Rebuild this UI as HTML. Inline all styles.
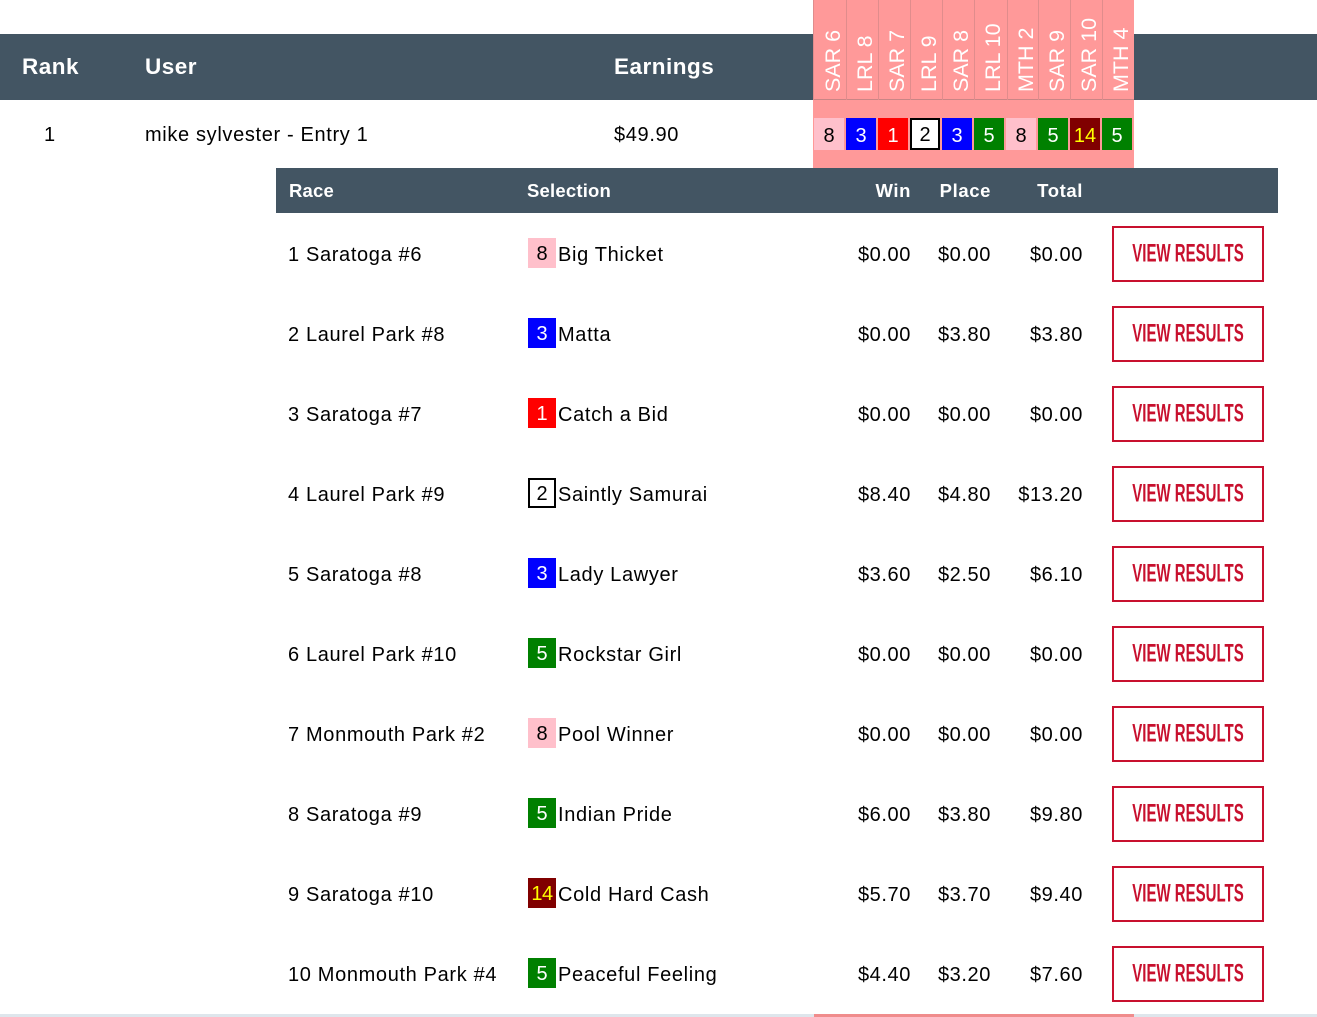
<!DOCTYPE html>
<html><head><meta charset="utf-8">
<style>
*{margin:0;padding:0;box-sizing:border-box}
html,body{width:1317px;height:1017px;background:#fff;overflow:hidden;font-family:"Liberation Sans",Arial,Helvetica,sans-serif;color:#000}
.a{position:absolute;white-space:nowrap}
.hdr{position:absolute;left:0;top:34px;width:1317px;height:66px;background:#435563}
.ht{position:absolute;top:34px;height:66px;line-height:66px;color:#fff;font-weight:bold;font-size:22.5px;letter-spacing:0.5px}
.pink{position:absolute;left:813px;top:0;width:321px;height:168px;background:#ff9999}
.vl{position:absolute;top:0;width:1px;height:100px;background:#e08c8c}
.mb{position:absolute;top:118px;width:30px;height:32px;line-height:32px;padding-top:2px;text-align:center;font-size:20px}
.sub{position:absolute;left:276px;top:168px;width:1002px;height:846px;background:#fff}
.sh{position:absolute;left:276px;top:168px;width:1002px;height:45px;background:#435563}
.st{position:absolute;top:168px;height:45px;line-height:45px;color:#fff;font-weight:bold;font-size:18.5px;letter-spacing:0.2px}
.t{position:absolute;height:40px;line-height:40px;font-size:20px;white-space:nowrap;letter-spacing:0.65px}
.r{text-align:right;letter-spacing:0.6px}
.sb{position:absolute;left:528px;width:28px;height:30px;line-height:30px;text-align:center;font-size:20px;padding-top:1px}
.btn{position:absolute;left:1112px;width:152px;height:56px;border:2px solid #c8102e;color:#c8102e}
.btn span{position:absolute;left:50%;top:50%;transform:translate(-50%,-50%) scaleX(0.6);font-weight:bold;font-size:25px;letter-spacing:0;white-space:nowrap}
.pk{background:#ffc0cb;color:#000}
.bl{background:#0000ff;color:#fff}
.rd{background:#ff0000;color:#fff}
.wh{background:#fff;color:#000;border:2px solid #000}
.gr{background:#008000;color:#fff}
.mr{background:#800000;color:#ffff00}
</style></head><body>

<div class="pink"></div>
<div class="hdr"></div>
<div class="pink" style="top:0;height:100px;"></div>
<div class="a" style="left:813px;top:99px;width:321px;height:1px;background:#c98585"></div>
<div class="vl" style="left:813px"></div>
<div class="vl" style="left:846px"></div>
<div class="vl" style="left:878px"></div>
<div class="vl" style="left:910px"></div>
<div class="vl" style="left:942px"></div>
<div class="vl" style="left:974px"></div>
<div class="vl" style="left:1007px"></div>
<div class="vl" style="left:1038px"></div>
<div class="vl" style="left:1070px"></div>
<div class="vl" style="left:1102px"></div>

<svg class="a" style="left:0;top:0" width="1317" height="110">
<g fill="#fff" font-family="Liberation Sans, Arial, sans-serif" font-size="21.5">
<text transform="translate(840,92) rotate(-90)">SAR 6</text>
<text transform="translate(872,92) rotate(-90)">LRL 8</text>
<text transform="translate(904,92) rotate(-90)">SAR 7</text>
<text transform="translate(936,92) rotate(-90)">LRL 9</text>
<text transform="translate(968,92) rotate(-90)">SAR 8</text>
<text transform="translate(1000,92) rotate(-90)">LRL 10</text>
<text transform="translate(1033,92) rotate(-90)">MTH 2</text>
<text transform="translate(1064,92) rotate(-90)">SAR 9</text>
<text transform="translate(1096,92) rotate(-90)">SAR 10</text>
<text transform="translate(1128,92) rotate(-90)">MTH 4</text>
</g></svg>

<div class="ht" style="left:22px">Rank</div>
<div class="ht" style="left:145px">User</div>
<div class="ht" style="left:614px">Earnings</div>

<div class="t" style="left:44px;top:115px">1</div>
<div class="t" style="left:145px;top:115px">mike sylvester - Entry 1</div>
<div class="t" style="left:614px;top:115px">$49.90</div>

<div class="mb pk" style="left:814px">8</div>
<div class="mb bl" style="left:846px">3</div>
<div class="mb rd" style="left:878px">1</div>
<div class="mb wh" style="left:910px;line-height:28px;padding-top:1px">2</div>
<div class="mb bl" style="left:942px">3</div>
<div class="mb gr" style="left:974px">5</div>
<div class="mb pk" style="left:1006px">8</div>
<div class="mb gr" style="left:1038px">5</div>
<div class="mb mr" style="left:1070px">14</div>
<div class="mb gr" style="left:1102px">5</div>

<div class="sub"></div>
<div class="sh"></div>
<div class="st" style="left:289px">Race</div>
<div class="st" style="left:527px">Selection</div>
<div class="st r" style="left:811px;width:100px">Win</div>
<div class="st r" style="left:891px;width:100px">Place</div>
<div class="st r" style="left:983px;width:100px">Total</div>

<!-- rows -->
<div class="t" style="left:288px;top:235px">1 Saratoga #6</div>
<div class="sb pk" style="top:238px">8</div>
<div class="t" style="left:558px;top:235px">Big Thicket</div>
<div class="t r" style="left:811px;width:100px;top:235px">$0.00</div>
<div class="t r" style="left:891px;width:100px;top:235px">$0.00</div>
<div class="t r" style="left:983px;width:100px;top:235px">$0.00</div>
<div class="btn" style="top:226px"><span>VIEW RESULTS</span></div>

<div class="t" style="left:288px;top:315px">2 Laurel Park #8</div>
<div class="sb bl" style="top:318px">3</div>
<div class="t" style="left:558px;top:315px">Matta</div>
<div class="t r" style="left:811px;width:100px;top:315px">$0.00</div>
<div class="t r" style="left:891px;width:100px;top:315px">$3.80</div>
<div class="t r" style="left:983px;width:100px;top:315px">$3.80</div>
<div class="btn" style="top:306px"><span>VIEW RESULTS</span></div>

<div class="t" style="left:288px;top:395px">3 Saratoga #7</div>
<div class="sb rd" style="top:398px">1</div>
<div class="t" style="left:558px;top:395px">Catch a Bid</div>
<div class="t r" style="left:811px;width:100px;top:395px">$0.00</div>
<div class="t r" style="left:891px;width:100px;top:395px">$0.00</div>
<div class="t r" style="left:983px;width:100px;top:395px">$0.00</div>
<div class="btn" style="top:386px"><span>VIEW RESULTS</span></div>

<div class="t" style="left:288px;top:475px">4 Laurel Park #9</div>
<div class="sb wh" style="top:478px;line-height:26px">2</div>
<div class="t" style="left:558px;top:475px">Saintly Samurai</div>
<div class="t r" style="left:811px;width:100px;top:475px">$8.40</div>
<div class="t r" style="left:891px;width:100px;top:475px">$4.80</div>
<div class="t r" style="left:983px;width:100px;top:475px">$13.20</div>
<div class="btn" style="top:466px"><span>VIEW RESULTS</span></div>

<div class="t" style="left:288px;top:555px">5 Saratoga #8</div>
<div class="sb bl" style="top:558px">3</div>
<div class="t" style="left:558px;top:555px">Lady Lawyer</div>
<div class="t r" style="left:811px;width:100px;top:555px">$3.60</div>
<div class="t r" style="left:891px;width:100px;top:555px">$2.50</div>
<div class="t r" style="left:983px;width:100px;top:555px">$6.10</div>
<div class="btn" style="top:546px"><span>VIEW RESULTS</span></div>

<div class="t" style="left:288px;top:635px">6 Laurel Park #10</div>
<div class="sb gr" style="top:638px">5</div>
<div class="t" style="left:558px;top:635px">Rockstar Girl</div>
<div class="t r" style="left:811px;width:100px;top:635px">$0.00</div>
<div class="t r" style="left:891px;width:100px;top:635px">$0.00</div>
<div class="t r" style="left:983px;width:100px;top:635px">$0.00</div>
<div class="btn" style="top:626px"><span>VIEW RESULTS</span></div>

<div class="t" style="left:288px;top:715px">7 Monmouth Park #2</div>
<div class="sb pk" style="top:718px">8</div>
<div class="t" style="left:558px;top:715px">Pool Winner</div>
<div class="t r" style="left:811px;width:100px;top:715px">$0.00</div>
<div class="t r" style="left:891px;width:100px;top:715px">$0.00</div>
<div class="t r" style="left:983px;width:100px;top:715px">$0.00</div>
<div class="btn" style="top:706px"><span>VIEW RESULTS</span></div>

<div class="t" style="left:288px;top:795px">8 Saratoga #9</div>
<div class="sb gr" style="top:798px">5</div>
<div class="t" style="left:558px;top:795px">Indian Pride</div>
<div class="t r" style="left:811px;width:100px;top:795px">$6.00</div>
<div class="t r" style="left:891px;width:100px;top:795px">$3.80</div>
<div class="t r" style="left:983px;width:100px;top:795px">$9.80</div>
<div class="btn" style="top:786px"><span>VIEW RESULTS</span></div>

<div class="t" style="left:288px;top:875px">9 Saratoga #10</div>
<div class="sb mr" style="top:878px;letter-spacing:-0.5px">14</div>
<div class="t" style="left:558px;top:875px">Cold Hard Cash</div>
<div class="t r" style="left:811px;width:100px;top:875px">$5.70</div>
<div class="t r" style="left:891px;width:100px;top:875px">$3.70</div>
<div class="t r" style="left:983px;width:100px;top:875px">$9.40</div>
<div class="btn" style="top:866px"><span>VIEW RESULTS</span></div>

<div class="t" style="left:288px;top:955px">10 Monmouth Park #4</div>
<div class="sb gr" style="top:958px">5</div>
<div class="t" style="left:558px;top:955px">Peaceful Feeling</div>
<div class="t r" style="left:811px;width:100px;top:955px">$4.40</div>
<div class="t r" style="left:891px;width:100px;top:955px">$3.20</div>
<div class="t r" style="left:983px;width:100px;top:955px">$7.60</div>
<div class="btn" style="top:946px"><span>VIEW RESULTS</span></div>

<div class="a" style="left:0;top:1014px;width:1317px;height:3px;background:#dee6ec"></div>
<div class="a" style="left:814px;top:1014px;width:320px;height:3px;background:#f08c8c"></div>
</body></html>
